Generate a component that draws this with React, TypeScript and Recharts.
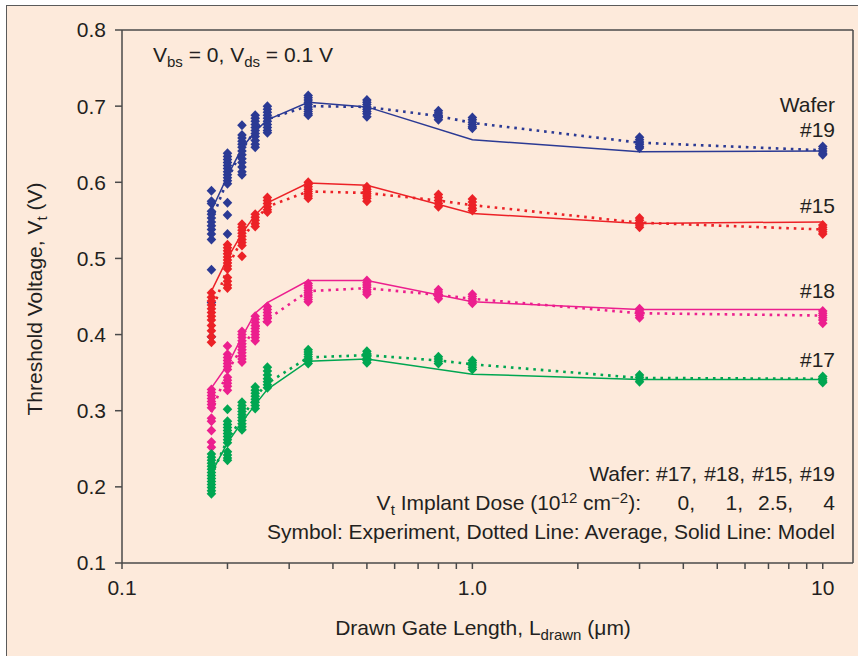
import React from 'react';
import { ComposedChart, Line, Scatter, XAxis, YAxis, ReferenceLine } from 'recharts';

const BG = '#FDEADB';
const TEXT = '#231F20';
const AXIS = '#4a4a4a';
const FONT = '"Liberation Sans", Arial, Helvetica, sans-serif';

const BLUE = '#2B3A94';
const RED = '#EC2227';
const MAGENTA = '#EC1F8E';
const GREEN = '#00A651';

// Drawn gate lengths (µm)
const lengths = [0.18, 0.2, 0.22, 0.24, 0.26, 0.34, 0.5, 0.8, 1.0, 3.0, 10];
const modelLengths = [0.18, 0.2, 0.22, 0.24, 0.26, 0.34, 0.5, 1.0, 3.0, 10];

const xTicks = [0.1, 0.2, 0.3, 0.4, 0.5, 0.6, 0.7, 0.8, 0.9, 1, 2, 3, 4, 5, 6, 7, 8, 9, 10];
const xTickLabels: Record<string, string> = { '0.1': '0.1', '1': '1.0', '10': '10' };
const yTicks = [0.1, 0.2, 0.3, 0.4, 0.5, 0.6, 0.7, 0.8];

// Wafer #19 (4e12 cm^-2)
const w19Exp = [
  [0.589, 0.575, 0.572, 0.562, 0.558, 0.553, 0.548, 0.543, 0.538, 0.532, 0.525, 0.485, 0.442, 0.397],
  [0.638, 0.634, 0.630, 0.626, 0.622, 0.618, 0.614, 0.610, 0.606, 0.602, 0.598, 0.573, 0.557, 0.532],
  [0.675, 0.662, 0.658, 0.654, 0.650, 0.646, 0.641, 0.636, 0.631, 0.626, 0.620, 0.614, 0.610],
  [0.688, 0.684, 0.680, 0.676, 0.672, 0.668, 0.664, 0.660, 0.655, 0.650, 0.646],
  [0.700, 0.696, 0.692, 0.688, 0.684, 0.680, 0.676, 0.672, 0.668, 0.665],
  [0.714, 0.711, 0.708, 0.705, 0.702, 0.699, 0.696, 0.693, 0.690, 0.688],
  [0.708, 0.705, 0.702, 0.699, 0.696, 0.693, 0.690, 0.686],
  [0.694, 0.691, 0.688, 0.685, 0.682],
  [0.685, 0.682, 0.679, 0.676, 0.673, 0.671],
  [0.659, 0.656, 0.653, 0.650, 0.647, 0.645],
  [0.647, 0.644, 0.641, 0.638, 0.636],
];
const w19Avg = [0.550, 0.603, 0.643, 0.668, 0.683, 0.700, 0.699, 0.687, 0.678, 0.652, 0.642];
const w19Model = [0.563, 0.608, 0.645, 0.667, 0.682, 0.705, 0.699, 0.656, 0.640, 0.641];

// Wafer #15 (2.5e12 cm^-2)
const w15Exp = [
  [0.455, 0.449, 0.444, 0.439, 0.434, 0.429, 0.424, 0.419, 0.412, 0.405, 0.397, 0.390],
  [0.518, 0.514, 0.510, 0.506, 0.502, 0.498, 0.494, 0.490, 0.486, 0.475, 0.470, 0.465, 0.461],
  [0.545, 0.541, 0.537, 0.533, 0.529, 0.525, 0.521, 0.517, 0.503],
  [0.558, 0.554, 0.550, 0.546, 0.542],
  [0.580, 0.576, 0.572, 0.568, 0.564, 0.561],
  [0.600, 0.597, 0.594, 0.591, 0.588, 0.585, 0.582, 0.579],
  [0.594, 0.591, 0.588, 0.585, 0.582, 0.579, 0.575],
  [0.584, 0.580, 0.576, 0.572, 0.568],
  [0.578, 0.574, 0.570, 0.566, 0.563],
  [0.553, 0.550, 0.547, 0.544, 0.541],
  [0.544, 0.541, 0.538, 0.535, 0.532],
];
const w15Avg = [0.428, 0.488, 0.525, 0.550, 0.568, 0.588, 0.586, 0.576, 0.570, 0.547, 0.538];
const w15Model = [0.457, 0.500, 0.533, 0.557, 0.573, 0.599, 0.596, 0.559, 0.546, 0.548];

// Wafer #18 (1e12 cm^-2)
const w18Exp = [
  [0.328, 0.324, 0.320, 0.316, 0.312, 0.308, 0.304, 0.290, 0.286, 0.274, 0.259, 0.252],
  [0.385, 0.374, 0.370, 0.366, 0.362, 0.358, 0.354, 0.344, 0.340, 0.336, 0.332, 0.327],
  [0.404, 0.400, 0.396, 0.392, 0.388, 0.384, 0.380, 0.376, 0.372, 0.368, 0.364],
  [0.424, 0.420, 0.416, 0.412, 0.408, 0.404, 0.400, 0.396, 0.392],
  [0.437, 0.433, 0.429, 0.425, 0.421, 0.417],
  [0.467, 0.464, 0.461, 0.458, 0.455, 0.452, 0.449, 0.446, 0.443],
  [0.471, 0.468, 0.465, 0.462, 0.459, 0.456, 0.453],
  [0.459, 0.456, 0.453, 0.450, 0.447],
  [0.453, 0.450, 0.447, 0.444, 0.441],
  [0.434, 0.431, 0.428, 0.425, 0.422],
  [0.431, 0.428, 0.425, 0.422, 0.419, 0.415],
];
const w18Avg = [0.298, 0.352, 0.383, 0.408, 0.420, 0.457, 0.461, 0.452, 0.447, 0.428, 0.425];
const w18Model = [0.330, 0.360, 0.397, 0.428, 0.442, 0.471, 0.471, 0.443, 0.433, 0.433];

// Wafer #17 (0 cm^-2)
const w17Exp = [
  [0.243, 0.239, 0.235, 0.231, 0.227, 0.223, 0.219, 0.215, 0.211, 0.207, 0.203, 0.199, 0.195, 0.191],
  [0.302, 0.286, 0.282, 0.278, 0.274, 0.270, 0.266, 0.262, 0.258, 0.246, 0.242, 0.238, 0.235],
  [0.311, 0.307, 0.303, 0.299, 0.295, 0.291, 0.287, 0.283, 0.279, 0.275],
  [0.331, 0.327, 0.323, 0.319, 0.315, 0.311, 0.307, 0.303],
  [0.357, 0.352, 0.347, 0.342, 0.338, 0.334, 0.330],
  [0.380, 0.377, 0.374, 0.371, 0.368, 0.365, 0.362],
  [0.378, 0.375, 0.372, 0.369, 0.366, 0.363],
  [0.371, 0.368, 0.365, 0.362],
  [0.366, 0.363, 0.360, 0.357, 0.354],
  [0.347, 0.344, 0.341, 0.338],
  [0.345, 0.342, 0.339, 0.337],
];
const w17Avg = [0.215, 0.262, 0.290, 0.318, 0.336, 0.370, 0.373, 0.366, 0.361, 0.343, 0.342];
const w17Model = [0.218, 0.258, 0.285, 0.308, 0.328, 0.365, 0.368, 0.348, 0.341, 0.341];

const toPoints = (groups: number[][]) =>
  groups.flatMap((g, i) => g.map((y) => ({ x: lengths[i], y })));
const toLine = (xs: number[], ys: number[]) => xs.map((x, i) => ({ x, y: ys[i] }));

const series = [
  { name: '#19', color: BLUE, exp: w19Exp, avg: w19Avg, model: w19Model },
  { name: '#15', color: RED, exp: w15Exp, avg: w15Avg, model: w15Model },
  { name: '#18', color: MAGENTA, exp: w18Exp, avg: w18Avg, model: w18Model },
  { name: '#17', color: GREEN, exp: w17Exp, avg: w17Avg, model: w17Model },
];

const makeDiamond = (color: string) => (props: any) => {
  const { cx, cy } = props;
  if (cx == null || cy == null) return <g />;
  const w = 4.8;
  const h = 5;
  return <path d={`M${cx},${cy - h}L${cx + w},${cy}L${cx},${cy + h}L${cx - w},${cy}Z`} fill={color} />;
};

const fmtX = (v: number) => {
  const key = String(Math.round(v * 10) / 10);
  return xTickLabels[key] ?? '';
};

const SUB = 15;

export default function App() {
  return (
    <div style={{ position: 'absolute', left: 0, top: 0, width: 858, height: 656, background: '#ffffff', overflow: 'hidden' }}>
      <div
        style={{
          position: 'absolute', left: 6, top: 5, width: 870, height: 670, background: BG,
          borderLeft: '1.5px solid #5a5a5a', borderTop: '1.5px solid #5a5a5a',
        }}
      />
      <div style={{ position: 'absolute', left: 0, top: 0 }}>
        <ComposedChart width={858} height={656} margin={{ top: 30, right: 5, bottom: 23, left: 62 }}>
          <XAxis
            type="number"
            dataKey="x"
            scale="log"
            domain={[0.1, 12.2]}
            allowDataOverflow
            ticks={xTicks}
            interval={0}
            tickFormatter={fmtX}
            tickSize={6}
            tickMargin={11}
            height={70}
            axisLine={{ stroke: AXIS, strokeWidth: 1.5 }}
            tickLine={{ stroke: AXIS, strokeWidth: 1.5 }}
            tick={{ fill: TEXT, fontSize: 21, fontFamily: FONT }}
          />
          <YAxis
            type="number"
            dataKey="y"
            domain={[0.1, 0.8]}
            allowDataOverflow
            ticks={yTicks}
            interval={0}
            tickFormatter={(v: number) => v.toFixed(1)}
            tickSize={7}
            tickMargin={9}
            width={60}
            axisLine={{ stroke: AXIS, strokeWidth: 1.5 }}
            tickLine={{ stroke: AXIS, strokeWidth: 1.5 }}
            tick={{ fill: TEXT, fontSize: 21, fontFamily: FONT }}
          />
          <ReferenceLine y={0.8} stroke={AXIS} strokeWidth={1.5} />
          <ReferenceLine x={12.2} stroke={AXIS} strokeWidth={1.5} />
          {series.map((s) => (
            <Scatter
              key={`exp-${s.name}`}
              data={toPoints(s.exp)}
              dataKey="y"
              fill={s.color}
              shape={makeDiamond(s.color)}
              isAnimationActive={false}
            />
          ))}
          {series.map((s) => (
            <Line
              key={`avg-${s.name}`}
              data={toLine(lengths, s.avg)}
              dataKey="y"
              type="linear"
              stroke={s.color}
              strokeWidth={2.6}
              strokeDasharray="2.6 4.9"
              dot={false}
              activeDot={false}
              isAnimationActive={false}
            />
          ))}
          {series.map((s) => (
            <Line
              key={`model-${s.name}`}
              data={toLine(modelLengths, s.model)}
              dataKey="y"
              type="linear"
              stroke={s.color}
              strokeWidth={1.5}
              dot={false}
              activeDot={false}
              isAnimationActive={false}
            />
          ))}
        </ComposedChart>
      </div>
      <svg
        width={858}
        height={656}
        style={{ position: 'absolute', left: 0, top: 0, pointerEvents: 'none' }}
        fontFamily={FONT}
        fontSize={21}
        fill={TEXT}
      >
        <text x={153} y={62}>
          V<tspan dy={5} fontSize={SUB}>bs</tspan>
          <tspan dy={-5}> = 0, V</tspan>
          <tspan dy={5} fontSize={SUB}>ds</tspan>
          <tspan dy={-5}> = 0.1 V</tspan>
        </text>
        <text x={835} y={112} textAnchor="end">Wafer</text>
        <text x={835} y={137} textAnchor="end">#19</text>
        <text x={835} y={213} textAnchor="end">#15</text>
        <text x={835} y={298} textAnchor="end">#18</text>
        <text x={835} y={367} textAnchor="end">#17</text>

        <text x={697} y={481} textAnchor="end">Wafer: #17,</text>
        <text x={745} y={481} textAnchor="end">#18,</text>
        <text x={793} y={481} textAnchor="end">#15,</text>
        <text x={835} y={481} textAnchor="end">#19</text>

        <text x={641} y={510} textAnchor="end">
          V<tspan dy={5} fontSize={SUB}>t</tspan>
          <tspan dy={-5}> Implant Dose (10</tspan>
          <tspan dy={-7} fontSize={SUB}>12</tspan>
          <tspan dy={7}> cm</tspan>
          <tspan dy={-7} fontSize={SUB}>−2</tspan>
          <tspan dy={7}>):</tspan>
        </text>
        <text x={695} y={510} textAnchor="end">0,</text>
        <text x={743} y={510} textAnchor="end">1,</text>
        <text x={793} y={510} textAnchor="end">2.5,</text>
        <text x={835} y={510} textAnchor="end">4</text>

        <text x={835} y={539} textAnchor="end">Symbol: Experiment, Dotted Line: Average, Solid Line: Model</text>

        <text x={483} y={635} textAnchor="middle">
          Drawn Gate Length, L<tspan dy={5} fontSize={SUB}>drawn</tspan>
          <tspan dy={-5}> (μm)</tspan>
        </text>
        <text transform="translate(42,299) rotate(-90)" textAnchor="middle">
          Threshold Voltage, V<tspan dy={5} fontSize={SUB}>t</tspan>
          <tspan dy={-5}> (V)</tspan>
        </text>
      </svg>
    </div>
  );
}
